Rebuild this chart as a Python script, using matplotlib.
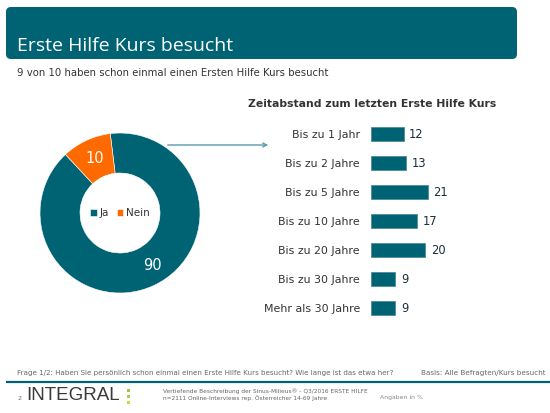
import matplotlib
matplotlib.use("Agg")
import matplotlib.pyplot as plt
from matplotlib.patches import FancyBboxPatch, Rectangle

# Palette
TEAL = "#006374"
ORANGE = "#FF6A00"
ARROW = "#5B9AA9"
DARK_TEXT = "#333333"
GRAY_TEXT = "#666666"

# Donut data
donut_labels = ["Ja", "Nein"]
donut_values = [90, 10]

# Bar data
bar_categories = ["Bis zu 1 Jahr", "Bis zu 2 Jahre", "Bis zu 5 Jahre", "Bis zu 10 Jahre",
                  "Bis zu 20 Jahre", "Bis zu 30 Jahre", "Mehr als 30 Jahre"]
bar_values = [12, 13, 21, 17, 20, 9, 9]

W, H = 550, 413
fig = plt.figure(figsize=(W / 100, H / 100), dpi=100)
fig.patch.set_facecolor("white")


def px_axes(x0, y0, x1, y1):
    """Axes from pixel box (top-left origin)."""
    return fig.add_axes([x0 / W, 1 - y1 / H, (x1 - x0) / W, (y1 - y0) / H])


# --- page overlay in pixel coordinates ---
ax0 = fig.add_axes([0, 0, 1, 1])
ax0.set_xlim(0, W)
ax0.set_ylim(H, 0)
ax0.axis("off")

ax0.add_patch(FancyBboxPatch((6, 7), 511, 52, boxstyle="round,pad=0,rounding_size=5",
                             facecolor=TEAL, edgecolor="none"))
ax0.text(17, 46, "Erste Hilfe Kurs besucht", color="white", fontsize=14,
         family="Open Sans", va="center", ha="left")
ax0.text(17, 73, "9 von 10 haben schon einmal einen Ersten Hilfe Kurs besucht",
         color=DARK_TEXT, fontsize=7.3, va="center", ha="left")
ax0.text(372, 104, "Zeitabstand zum letzten Erste Hilfe Kurs", color=DARK_TEXT,
         fontsize=7.8, fontweight="bold", va="center", ha="center")

ax0.annotate("", xy=(271, 145), xytext=(165, 145),
             arrowprops=dict(arrowstyle="->", color=ARROW, lw=1, mutation_scale=7))

# footer
ax0.text(17, 373, "Frage 1/2: Haben Sie persönlich schon einmal einen Erste Hilfe Kurs besucht? "
         "Wie lange ist das etwa her?", color=GRAY_TEXT, fontsize=5.1, va="center", ha="left")
ax0.text(546, 373, "Basis: Alle Befragten/Kurs besucht", color=GRAY_TEXT, fontsize=5.2,
         va="center", ha="right")
ax0.plot([6, 550], [382, 382], color=TEAL, lw=1.6, solid_capstyle="butt")
ax0.text(17, 398, "2", color=GRAY_TEXT, fontsize=4.5, va="center", ha="left")
ax0.text(26, 396, "INTEGRAL", color="#3a3a3a", fontsize=13.5, family="Liberation Sans",
         va="center", ha="left")
for yy, c in [(389, "#9CC84A"), (395, "#A9CC45"), (401, "#C9D63C")]:
    ax0.add_patch(Rectangle((127, yy), 3, 3, facecolor=c, edgecolor="none"))
ax0.text(163, 391, "Vertiefende Beschreibung der Sinus-Milieus® - Q3/2016 ERSTE HILFE",
         color=GRAY_TEXT, fontsize=4.2, va="center", ha="left")
ax0.text(163, 398, "n=2111 Online-Interviews rep. Österreicher 14-69 Jahre",
         color=GRAY_TEXT, fontsize=4.2, va="center", ha="left")
ax0.text(380, 398, "Angaben in %", color="#888888", fontsize=4.4, va="center", ha="left")

# --- donut ---
ax1 = px_axes(40, 133, 200, 293)
wedges, texts, autotexts = ax1.pie(
    donut_values, colors=[TEAL, ORANGE], startangle=97, counterclock=False,
    radius=1, wedgeprops=dict(width=0.5, edgecolor="white", linewidth=0.4),
    autopct=lambda p: f"{p:.0f}", pctdistance=0.75,
    textprops=dict(color="white", fontsize=10.5))
# nudge big-slice label towards the lower right like the original
autotexts[0].set_position((0.4, -0.66))
ax1.set_xlim(-1, 1)
ax1.set_ylim(-1, 1)
ax1.set_aspect("equal")
ax1.legend(wedges, donut_labels, loc="center", ncol=2, frameon=False, fontsize=7.5,
           handlelength=0.6, handleheight=0.6, handletextpad=0.25, columnspacing=0.8,
           labelcolor=DARK_TEXT)

# --- horizontal bars ---
ax2 = px_axes(371, 119.5, 480, 322.5)
pos = list(range(len(bar_values)))
ax2.barh(pos, bar_values, height=0.48, color=TEAL, edgecolor="#4E8C99", linewidth=0.6)
for p, v in zip(pos, bar_values):
    ax2.text(v + 2.0, p, str(v), va="center", ha="left", fontsize=8.3, color="#1C2E3C")
ax2.set_xlim(0, 109 / 2.72)
ax2.set_ylim(len(bar_values) - 0.5, -0.5)
ax2.set_yticks(pos)
ax2.set_yticklabels(bar_categories, fontsize=7.9, color=DARK_TEXT)
ax2.tick_params(axis="y", length=0, pad=8)
ax2.set_xticks([])
for s in ax2.spines.values():
    s.set_visible(False)
ax2.patch.set_alpha(0)

fig.savefig("out.png", dpi=100, facecolor="white")
